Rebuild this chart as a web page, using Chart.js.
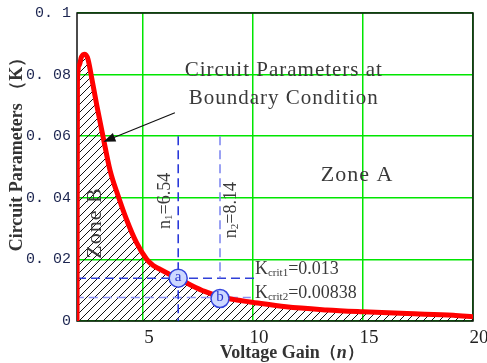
<!DOCTYPE html>
<html>
<head>
<meta charset="utf-8">
<script src="https://cdn.jsdelivr.net/npm/chart.js@4.4.1/dist/chart.umd.min.js"></script>
<style>
  html, body { margin: 0; padding: 0; background: #fff; }
</style>
</head>
<body>
<canvas id="chart" width="487" height="363"></canvas>
<script>
// -------- Data --------
const gainN  = [2, 2.02, 2.1, 2.2, 2.36, 2.5, 2.64, 2.9, 3.18, 3.5, 3.88, 4.26, 4.7, 5.17, 5.45, 5.77, 6.2, 6.6, 7.14, 7.8, 8.5, 9.26, 9.86, 11.5, 13.35, 15, 17, 19.1, 20];
const paramK = [0, 0.078, 0.083, 0.0857, 0.0866, 0.085, 0.08, 0.07, 0.06, 0.049, 0.0404, 0.0328, 0.0255, 0.0200, 0.0181, 0.0168, 0.0152, 0.0138, 0.0118, 0.0096, 0.0079, 0.0068, 0.0062, 0.0046, 0.0036, 0.003, 0.0024, 0.0019, 0.0014];

const xTicks = [5, 10, 15, 20];
const yTickLabels = ['0', '0. 02', '0. 04', '0. 06', '0. 08', '0. 1'];

// operating points a / b and their guide lines
const pointNames = ['a', 'b'];
const pointN = [6.6, 8.5];
const pointK = [0.0139, 0.0073];
const n1Guide = [{ x: 6.6, y: 0.06 }, { x: 6.6, y: 0 }];
const n2Guide = [{ x: 8.5, y: 0.06 }, { x: 8.5, y: 0.0139 }];
const k1Guide = [{ x: 2, y: 0.0139 }, { x: 10.1, y: 0.0139 }];
const k2Guide = [{ x: 1.9, y: 0.0076 }, { x: 9.9, y: 0.0076 }];

// -------- Hatch pattern for zone B --------
function makeHatch() {
    const c = document.createElement('canvas');
    c.width = 8; c.height = 8;
    const g = c.getContext('2d');
    g.strokeStyle = '#111';
    g.lineWidth = 1;
    g.beginPath();
    g.moveTo(0, 8); g.lineTo(8, 0);
    g.moveTo(-2, 2); g.lineTo(2, -2);
    g.moveTo(6, 10); g.lineTo(10, 6);
    g.stroke();
    return g.createPattern(c, 'repeat');
}

const serif = '"Liberation Serif", "Times New Roman", serif';

// draw a run of [text, font, dy] pieces starting at x
function drawRun(ctx, parts, x, y) {
    parts.forEach(([t, f, dy]) => {
        ctx.font = f;
        ctx.fillText(t, x, y + (dy || 0));
        x += ctx.measureText(t).width;
    });
}
function runWidth(ctx, parts) {
    return parts.reduce((w, [t, f]) => { ctx.font = f; return w + ctx.measureText(t).width; }, 0);
}

const annotate = {
    id: 'annotate',
    beforeDatasetsDraw(chart) {
        const { ctx, chartArea: a } = chart;
        ctx.save();
        ctx.strokeStyle = '#111';
        ctx.lineWidth = 1.5;
        ctx.strokeRect(a.left, a.top, a.right - a.left, a.bottom - a.top);
        ctx.restore();
    },
    afterDatasetsDraw(chart) {
        const { ctx, scales: { x, y } } = chart;
        const px = v => x.getPixelForValue(v);
        const py = v => y.getPixelForValue(v);
        ctx.save();
        ctx.textBaseline = 'middle';
        ctx.fillStyle = '#3a3a3a';

        // -------- Zone labels --------
        ctx.textAlign = 'center';
        ctx.letterSpacing = '1px';
        ctx.font = '22px ' + serif;
        ctx.fillText('Zone A', px(14.73), py(0.0474));
        ctx.save();
        ctx.translate(px(2.82), py(0.0318));
        ctx.rotate(-Math.PI / 2);
        ctx.fillText('Zone B', 0, 0);
        ctx.restore();

        // -------- Boundary note + arrow --------
        ctx.font = '21px ' + serif;
        ctx.fillText('Circuit Parameters at', px(11.4), py(0.0812));
        ctx.fillText('Boundary Condition', px(11.4), py(0.0721));
        ctx.letterSpacing = '0px';

        const x0 = px(6.45), y0 = py(0.0676), x1 = px(3.2), y1 = py(0.0582);
        const ang = Math.atan2(y1 - y0, x1 - x0);
        ctx.strokeStyle = '#111';
        ctx.fillStyle = '#111';
        ctx.lineWidth = 1.2;
        ctx.beginPath();
        ctx.moveTo(x0, y0);
        ctx.lineTo(x1 - 8 * Math.cos(ang), y1 - 8 * Math.sin(ang));
        ctx.stroke();
        ctx.beginPath();
        ctx.moveTo(x1, y1);
        ctx.lineTo(x1 - 12 * Math.cos(ang) + 4.5 * Math.sin(ang), y1 - 12 * Math.sin(ang) - 4.5 * Math.cos(ang));
        ctx.lineTo(x1 - 12 * Math.cos(ang) - 4.5 * Math.sin(ang), y1 - 12 * Math.sin(ang) + 4.5 * Math.cos(ang));
        ctx.closePath();
        ctx.fill();

        // -------- n1 / n2 rotated labels --------
        ctx.fillStyle = '#3a3a3a';
        ctx.textAlign = 'left';
        [[6.0, 0.039, '1', '=6.54'], [9.0, 0.036, '2', '=8.14']].forEach(([n, k, sub, rest]) => {
            const parts = [['n', '18px ' + serif, 0], [sub, '11px ' + serif, 4], [rest, '18px ' + serif, 0]];
            ctx.save();
            ctx.translate(px(n), py(k));
            ctx.rotate(-Math.PI / 2);
            drawRun(ctx, parts, -runWidth(ctx, parts) / 2, 0);
            ctx.restore();
        });

        // -------- K crit labels --------
        drawRun(ctx, [['K', '18px ' + serif, 0], ['crit1', '11px ' + serif, 4], ['=0.013', '18px ' + serif, 0]], px(10.09), py(0.0169));
        drawRun(ctx, [['K', '18px ' + serif, 0], ['crit2', '11px ' + serif, 4], ['=0.00838', '18px ' + serif, 0]], px(10.09), py(0.0091));

        // -------- point letters --------
        ctx.textAlign = 'center';
        ctx.fillStyle = '#2a36cc';
        ctx.font = '15px ' + serif;
        pointNames.forEach((t, i) => ctx.fillText(t, px(pointN[i]), py(pointK[i]) - 1));

        // -------- axis titles --------
        ctx.fillStyle = '#333';
        ctx.save();
        ctx.translate(17, 150);
        ctx.rotate(-Math.PI / 2);
        ctx.font = 'bold 18px ' + serif;
        ctx.fillText('Circuit Parameters （K）', 0, 0);
        ctx.restore();
        ctx.textAlign = 'left';
        drawRun(ctx, [['Voltage Gain', 'bold 18px ' + serif], ['（', 'bold 17px ' + serif], ['n', 'italic bold 18px ' + serif], ['）', 'bold 17px ' + serif]], 220, 353);
        ctx.restore();
    }
};

const gridGreen = '#00e600';
const ctx = document.getElementById('chart').getContext('2d');

const guide = (data, color) => ({
    data, borderColor: color, borderWidth: 1.5, borderDash: [9, 5],
    pointRadius: 0, fill: false, order: 3
});

new Chart(ctx, {
    type: 'line',
    data: {
        datasets: [
            {
                label: 'K',
                data: gainN.map((n, i) => ({ x: n, y: paramK[i] })),
                borderColor: '#ff0000',
                borderWidth: 5,
                backgroundColor: makeHatch(),
                fill: 'origin',
                pointRadius: 0,
                cubicInterpolationMode: 'monotone',
                order: 1
            },
            guide(n1Guide, '#1f2fd8'),
            guide(n2Guide, '#7a82f0'),
            guide(k1Guide, '#3040d8'),
            guide(k2Guide, '#8a90f4'),
            {
                type: 'scatter',
                data: pointN.map((n, i) => ({ x: n, y: pointK[i] })),
                pointRadius: 9,
                pointBackgroundColor: '#cdd8ff',
                pointBorderColor: '#3344dd',
                pointBorderWidth: 1.5,
                order: 0
            }
        ]
    },
    options: {
        responsive: false,
        animation: false,
        devicePixelRatio: 1,
        layout: { padding: { left: 0, top: 13, right: 14, bottom: 0 } },
        plugins: {
            legend: { display: false },
            tooltip: { enabled: false },
            filler: { drawTime: 'beforeDatasetsDraw' }
        },
        scales: {
            x: {
                type: 'linear',
                min: 2,
                max: 20,
                afterBuildTicks: s => { s.ticks = xTicks.map(v => ({ value: v })); },
                afterFit: s => { s.height = 42; s.paddingLeft = 0; s.paddingRight = 0; },
                grid: { color: gridGreen, lineWidth: 1.5, drawTicks: false },
                border: { display: false },
                ticks: {
                    font: { family: serif, size: 19 },
                    color: '#222',
                    padding: 6,
                    labelOffset: 6,
                    maxRotation: 0,
                    autoSkip: false
                }
            },
            y: {
                min: 0,
                max: 0.1,
                afterFit: s => { s.width = 77; s.paddingTop = 0; s.paddingBottom = 0; },
                grid: { color: gridGreen, lineWidth: 1.5, drawTicks: false },
                border: { display: false },
                ticks: {
                    stepSize: 0.02,
                    font: { family: '"Liberation Mono", monospace', size: 15 },
                    color: '#1c2550',
                    padding: 6,
                    callback: (v, i) => yTickLabels[i]
                }
            }
        }
    },
    plugins: [annotate]
});
</script>
</body>
</html>
